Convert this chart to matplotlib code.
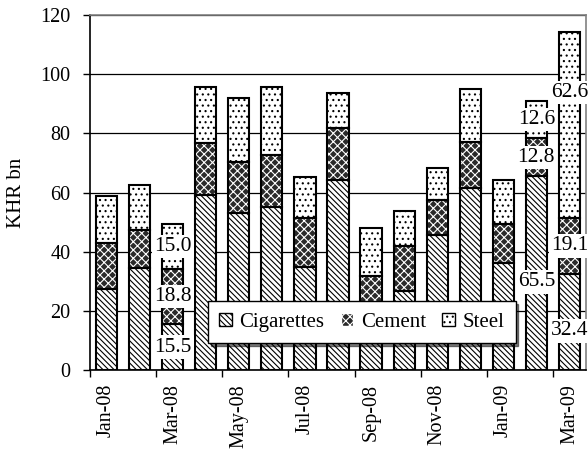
import matplotlib
matplotlib.use("Agg")
import matplotlib.pyplot as plt
import matplotlib.patches as mpatches
import numpy as np

# ── Data ──────────────────────────────────────────────────────────────────────
months = ["Jan-08", "Feb-08", "Mar-08", "Apr-08", "May-08", "Jun-08", "Jul-08",
          "Aug-08", "Sep-08", "Oct-08", "Nov-08", "Dec-08", "Jan-09", "Feb-09",
          "Mar-09"]
cigarettes = [27.4, 34.4, 15.5, 59.2, 53.0, 55.0, 34.7, 64.2, 18.0, 26.7, 45.6,
              61.6, 36.3, 65.5, 32.4]
cement = [15.4, 12.9, 18.8, 17.4, 17.2, 17.7, 16.6, 17.5, 13.9, 15.3, 11.9,
          15.6, 12.9, 12.8, 19.1]
steel = [16.0, 15.2, 15.0, 19.0, 21.6, 22.9, 13.8, 12.1, 16.0, 11.8, 10.7,
         17.8, 15.0, 12.6, 62.6]
labelled = ["Mar-08", "Feb-09", "Mar-09"]

plt.rcParams["font.family"] = ["Liberation Serif", "DejaVu Serif"]
plt.rcParams["hatch.linewidth"] = 0.8

fig = plt.figure(figsize=(5.88, 4.55), dpi=100)
ax = fig.add_axes([90 / 588, 85 / 455, 496 / 588, 355 / 455])

x = np.arange(len(months))
w = 0.64
series = [
    ("Cigarettes", np.array(cigarettes), "white", "black", "\\" * 6),
    ("Cement", np.array(cement), "#2a2a2a", "white", "xxxx"),
    ("Steel", np.array(steel), "white", "black", "..."),
]

bottom = np.zeros(len(months))
handles = []
for name, vals, face, hcol, hatch in series:
    ax.bar(x, vals, w, bottom=bottom, color=face, edgecolor=hcol, hatch=hatch,
           linewidth=0, zorder=2)
    ax.bar(x, vals, w, bottom=bottom, fill=False, edgecolor="black",
           linewidth=1.5, zorder=3)
    handles.append(mpatches.Patch(facecolor=face, edgecolor=hcol, hatch=hatch,
                                  label=name))
    bottom = bottom + vals

# data labels for selected months
nudge = {("Mar-09", "Steel"): 11, ("Mar-09", "Cigarettes"): -3,
         ("Feb-09", "Cigarettes"): -3}
for m in labelled:
    i = months.index(m)
    base = 0
    for name, vals, *_ in series:
        yc = base + vals[i] / 2 + nudge.get((m, name), 0)
        ax.text(x[i], yc, f"{vals[i]:.1f}", ha="center", va="center",
                fontsize=15.5, zorder=5,
                bbox=dict(facecolor="white", edgecolor="none", pad=1.5))
        base += vals[i]

# axes styling
ax.set_xlim(-0.5, len(months) - 0.5)
ax.set_ylim(0, 120)
ax.set_yticks(np.arange(0, 121, 20))
ax.yaxis.grid(True, color="black", linewidth=0.9, zorder=0)
ax.set_axisbelow(True)
ax.set_xticks(np.arange(-0.5, len(months) - 1, 2))
ax.set_xticklabels([])
ax.set_xticks(x[::2], minor=True)
ax.set_xticklabels(months[::2], minor=True, rotation=90)
ax.tick_params(axis="x", which="minor", length=0, pad=10, labelsize=14.5)
ax.tick_params(axis="x", which="major", length=5, width=1, direction="out")
ax.tick_params(axis="y", length=5, width=1, pad=9, labelsize=14.5)
for s in ["left", "bottom"]:
    ax.spines[s].set_linewidth(1.2)
for s in ["top", "right"]:
    ax.spines[s].set_color("#808080")
    ax.spines[s].set_linewidth(1.2)
ax.set_ylabel("KHR bn", fontsize=15, labelpad=10)

leg = ax.legend(handles=handles, loc="center", bbox_to_anchor=(0.548, 0.134),
                ncol=3, fontsize=15, frameon=True, fancybox=False,
                edgecolor="black", handlelength=0.6, handleheight=0.6,
                handletextpad=0.35, columnspacing=0.8, borderpad=0.55,
                shadow={"color": "black", "alpha": 0.5, "ox": 2, "oy": -2})
leg.get_frame().set_linewidth(1.0)
leg.set_zorder(10)

fig.savefig("out.png", dpi=100, facecolor="white")
